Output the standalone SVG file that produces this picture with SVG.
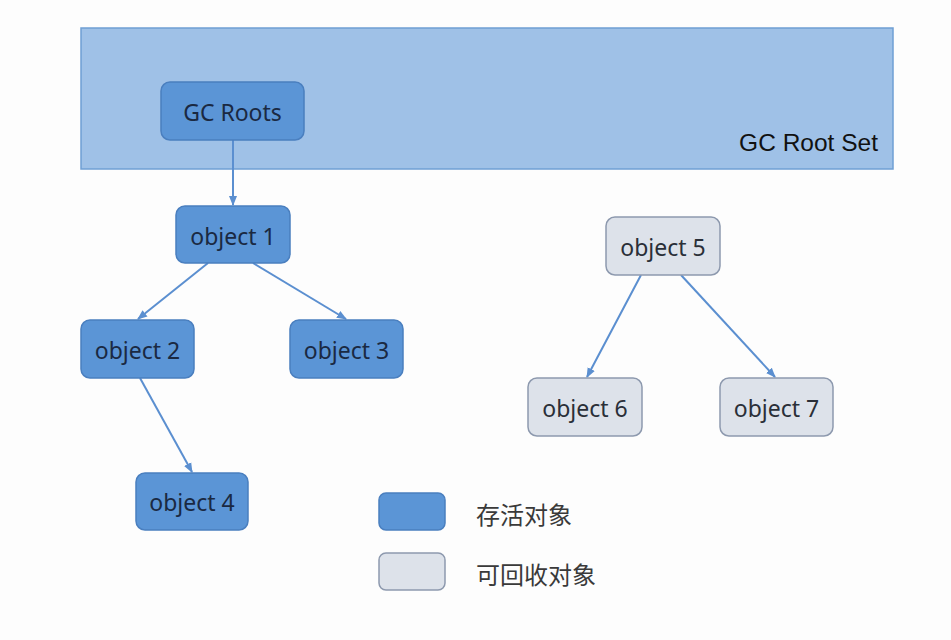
<svg xmlns="http://www.w3.org/2000/svg" width="951" height="640" viewBox="0 0 951 640">
<defs>
<style>
.live{fill:#5b95d6;stroke:#4a7fbf;stroke-width:1.5}
.dead{fill:#dde2ea;stroke:#8d99ae;stroke-width:1.5}
.lbl{font-family:"Noto Sans","Liberation Sans",sans-serif;font-size:23px;fill:#1a2942;text-anchor:middle;dominant-baseline:central}
.dlbl{font-family:"Noto Sans","Liberation Sans",sans-serif;font-size:23px;fill:#2a2f38;text-anchor:middle;dominant-baseline:central}
.cn{font-family:"Noto Sans CJK SC",sans-serif;font-size:24px;fill:#3a3a3a;dominant-baseline:central}
.edge{stroke:#5b8fd0;stroke-width:2;fill:none;marker-end:url(#arr)}
</style>
<marker id="arr" viewBox="0 0 10 10" refX="9" refY="5" markerWidth="5" markerHeight="5" orient="auto"><path d="M0,1 L10,5 L0,9 z" fill="#5b8fd0"/></marker>
</defs>
<rect width="951" height="640" fill="#fdfdfd"/>
<g id="rootset">
<rect x="81" y="28" width="812" height="141" fill="#9fc1e7" stroke="#6f9fd4" stroke-width="1.5"/>
<text x="878" y="151" font-family="Liberation Sans,Arial,sans-serif" font-size="24.5" fill="#111" text-anchor="end">GC Root Set</text>
</g>
<g id="connectors">
<line class="edge" x1="233" y1="140" x2="233" y2="205"/>
<line class="edge" x1="208" y1="263" x2="138" y2="319"/>
<line class="edge" x1="253" y1="263" x2="346" y2="319"/>
<line class="edge" x1="140" y1="378" x2="192" y2="472"/>
<line class="edge" x1="641" y1="275" x2="587" y2="377"/>
<line class="edge" x1="681" y1="275" x2="775" y2="377"/>
</g>
<g id="gcroots"><rect class="live" x="161" y="82" width="143" height="58" rx="9"/><text class="lbl" x="232.5" y="112">GC Roots</text></g>
<g id="obj1"><rect class="live" x="176" y="206" width="114" height="57" rx="9"/><text class="lbl" x="233" y="236">object 1</text></g>
<g id="obj2"><rect class="live" x="81" y="320" width="113" height="58" rx="9"/><text class="lbl" x="137.5" y="350">object 2</text></g>
<g id="obj3"><rect class="live" x="290" y="320" width="113" height="58" rx="9"/><text class="lbl" x="346.5" y="350">object 3</text></g>
<g id="obj4"><rect class="live" x="136" y="473" width="112" height="57" rx="9"/><text class="lbl" x="192" y="502">object 4</text></g>
<g id="obj5"><rect class="dead" x="606" y="217" width="114" height="58" rx="9"/><text class="dlbl" x="663" y="247">object 5</text></g>
<g id="obj6"><rect class="dead" x="528" y="378" width="114" height="58" rx="9"/><text class="dlbl" x="585" y="408">object 6</text></g>
<g id="obj7"><rect class="dead" x="720" y="378" width="113" height="58" rx="9"/><text class="dlbl" x="776.5" y="408">object 7</text></g>
<g id="legend-live"><rect class="live" x="379" y="493" width="66" height="37" rx="7"/><text class="cn" x="476" y="513">存活对象</text></g>
<g id="legend-dead"><rect class="dead" x="379" y="553" width="66" height="37" rx="7"/><text class="cn" x="476" y="573">可回收对象</text></g>
</svg>
